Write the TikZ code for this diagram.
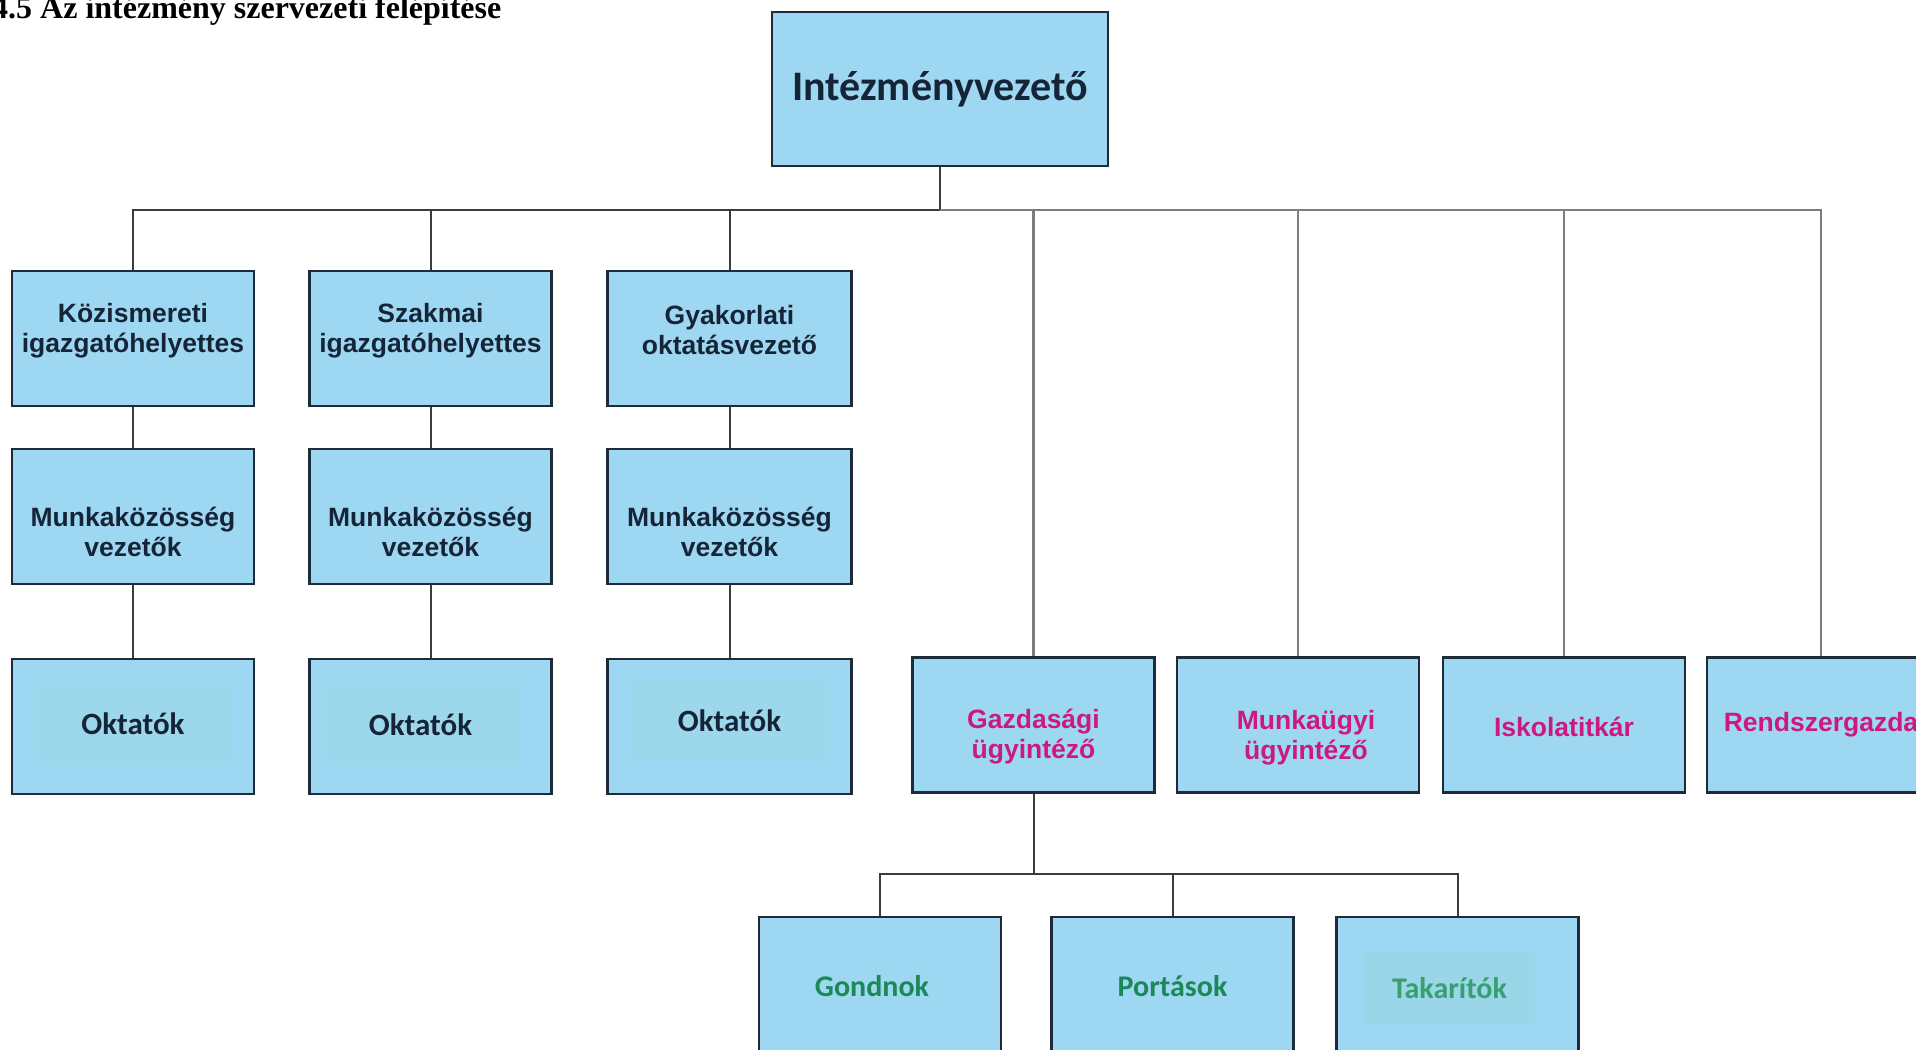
\documentclass[tikz,border=0pt]{standalone}
\usepackage{fontspec}
\setmainfont{Liberation Serif}
\newfontfamily\calibfont{Carlito}
\newfontfamily\arialfont{Liberation Sans}
\usetikzlibrary{positioning}
\definecolor{boxblue}{RGB}{158,215,241}
\definecolor{boxline}{RGB}{30,44,58}
\definecolor{connline}{RGB}{60,60,60}
\definecolor{paleconn}{RGB}{125,125,125}
\definecolor{navytext}{RGB}{22,36,56}
\definecolor{magtext}{RGB}{205,25,125}
\definecolor{greentext}{RGB}{28,135,88}
\definecolor{lgreentext}{RGB}{55,160,112}
\definecolor{hlblue}{RGB}{156,215,236}
\definecolor{hlgreen}{RGB}{154,213,232}
\tikzset{unit/.style={draw=boxline,line width=2.5pt,fill=boxblue,minimum
width=242pt,minimum height=135pt,align=center,inner sep=0pt},
navy/.style={text=navytext,align=center,font=\arialfont\bfseries\fontsize{26.5}{30}\selectfont},
mag/.style={text=magtext,align=center,font=\arialfont\bfseries\fontsize{26.5}{30}\selectfont},
crew/.style={text=greentext,font=\calibfont\bfseries\fontsize{30}{34}\selectfont},
hl/.style={fill=hlblue,minimum width=196pt,minimum height=80pt,inner sep=0pt,
text=navytext,font=\calibfont\bfseries\fontsize{31}{34}\selectfont}}
\tikzstyle{conn} = [draw=connline,line width=2pt]
\tikzstyle{paleline} = [draw=paleconn,line width=2.2pt]

\begin{document}
\begin{tikzpicture}[x=1pt,y=-1pt]
		\useasboundingbox (0,0) rectangle (1916,1049);
		\node[anchor=base west,inner sep=0pt,font=\bfseries\fontsize{32}{36}\selectfont] (title) at (-8,19) {4.5 Az intézmény szervezeti felépítése};

		% vezeto
		\node[unit,minimum width=336pt,minimum height=154pt,text=navytext,font=\calibfont\bfseries\fontsize{42}{46}\selectfont] (head) at (940,89) {Intézményvezető};

		% oktatasi ag
		\node[unit,label={[navy,yshift=8pt]center:{Közismereti\\igazgatóhelyettes}}] (kozism) at (133,338.5) {};
		\node[unit,label={[navy,yshift=8pt]center:{Szakmai\\igazgatóhelyettes}}] (szakmai) at (430.5,338.5) {};
		\node[unit,minimum width=244pt,label={[navy,yshift=8pt]center:{Gyakorlati\\oktatásvezető}}] (gyak) at (729.5,338.5) {};
		\node[unit,below=40.5pt of kozism,label={[navy,yshift=-15pt]center:{Munkaközösség\\vezetők}}] (mk1) {};
		\node[unit,below=40.5pt of szakmai,label={[navy,yshift=-15pt]center:{Munkaközösség\\vezetők}}] (mk2) {};
		\node[unit,minimum width=244pt,below=40.5pt of gyak,label={[navy,yshift=-15pt]center:{Munkaközösség\\vezetők}}] (mk3) {};
		\node[unit,below=72.5pt of mk1] (okt1) {};
		\node[unit,below=72.5pt of mk2] (okt2) {};
		\node[unit,minimum width=244pt,below=72.5pt of mk3] (okt3) {};
		\node[hl,yshift=3pt] (okt1t) at (okt1) {Oktatók};
		\node[hl,yshift=2pt,xshift=-10pt] (okt2t) at (okt2) {Oktatók};
		\node[hl,yshift=6pt] (okt3t) at (okt3) {Oktatók};

		% ugyintezok
		\node[unit,label={[mag,yshift=-12pt]center:{Gazdasági\\ügyintéző}}] (gazd) at (1033.5,725) {};
		\node[unit,label={[mag,yshift=-13pt,xshift=8pt]center:{Munkaügyi\\ügyintéző}}] (munka) at (1298,725) {};
		\node[unit,label={[mag,yshift=-2pt]center:{Iskolatitkár}}] (iskola) at (1564,725) {};
		\node[unit,minimum width=228pt,label={[mag]center:{Rendszergazda}}] (rendszer) at (1821,725) {};

		\node[unit,minimum height=150pt,label={[crew,yshift=6pt,xshift=-8pt]center:{Gondnok}}] (gondnok) at (880,992) {};
		\node[unit,minimum height=150pt,label={[crew,yshift=6pt]center:{Portások}}] (porta) at (1172.5,992) {};
		\node[unit,minimum height=150pt] (takar) at (1457.5,992) {};
		\node[hl,fill=hlgreen,minimum width=170pt,minimum height=72pt,yshift=4pt,xshift=-8pt,text=lgreentext,font=\calibfont\bfseries\fontsize{30}{34}\selectfont] (takart) at (takar) {Takarítók};

		\coordinate (bus) at (940,210);
		\draw[conn] (head.south) -- (bus);
		\foreach \n in {kozism,szakmai,gyak}
			\draw[conn] (bus) -| (\n.north);
		\foreach \n in {gazd,munka,iskola,rendszer}
			\draw[paleline] (bus) -| (\n.north);
		\foreach \a/\b in {kozism/mk1,mk1/okt1,szakmai/mk2,mk2/okt2,gyak/mk3,mk3/okt3}
			\draw[conn] (\a.south) -- (\b.north);

		\coordinate (subbus) at (1033.5,874);
		\draw[conn] (gazd.south) -- (subbus);
		\foreach \n in {gondnok,porta,takar}
			\draw[conn] (subbus) -| (\n.north);
	\end{tikzpicture}
\end{document}
